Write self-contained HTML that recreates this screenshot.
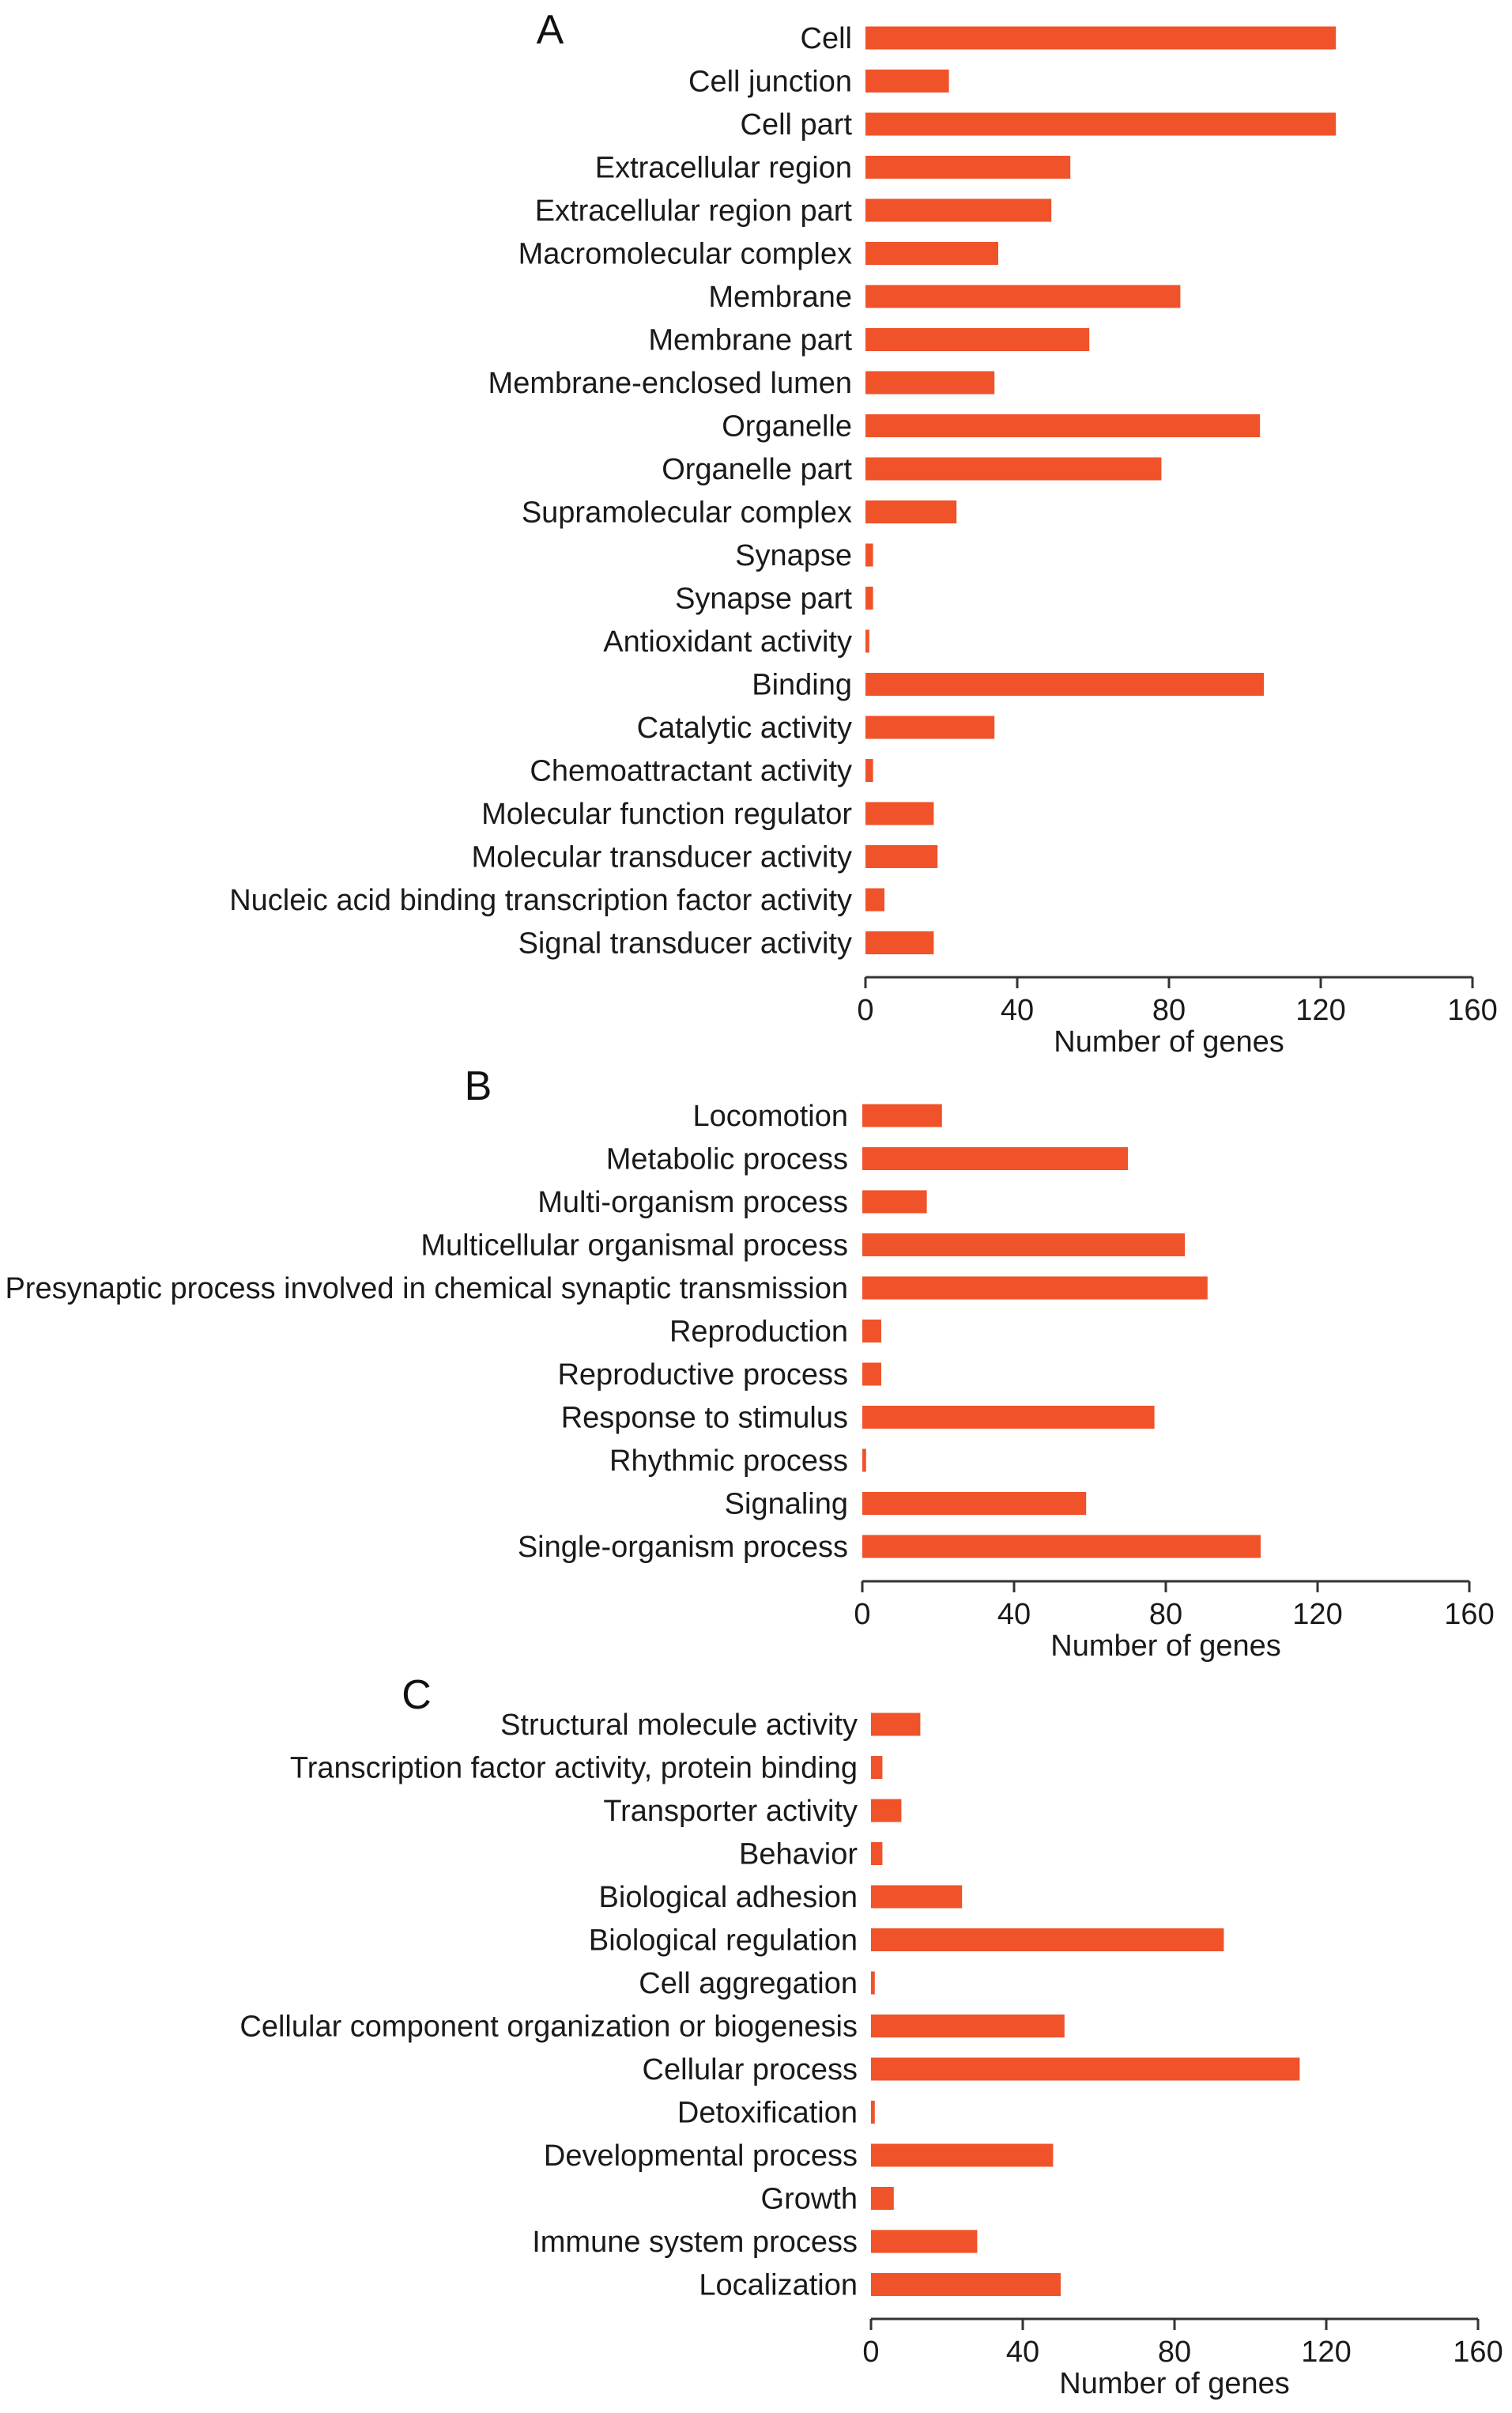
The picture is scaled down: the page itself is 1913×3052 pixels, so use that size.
<!DOCTYPE html>
<html><head><meta charset="utf-8"><style>
html,body{margin:0;padding:0;background:#fff;}
svg{display:block;font-family:"Liberation Sans",Arial,sans-serif;}
</style></head>
<body>
<svg id="fig" width="1913" height="3052" viewBox="0 0 1913 3052" xmlns="http://www.w3.org/2000/svg"></svg>
<script>
const catsA = ["Cell","Cell junction","Cell part","Extracellular region","Extracellular region part","Macromolecular complex","Membrane","Membrane part","Membrane-enclosed lumen","Organelle","Organelle part","Supramolecular complex","Synapse","Synapse part","Antioxidant activity","Binding","Catalytic activity","Chemoattractant activity","Molecular function regulator","Molecular transducer activity","Nucleic acid binding transcription factor activity","Signal transducer activity"];
const valsA = [124,22,124,54,49,35,83,59,34,104,78,24,2,2,1,105,34,2,18,19,5,18];
const catsB = ["Locomotion","Metabolic process","Multi-organism process","Multicellular organismal process","Presynaptic process involved in chemical synaptic transmission","Reproduction","Reproductive process","Response to stimulus","Rhythmic process","Signaling","Single-organism process"];
const valsB = [21,70,17,85,91,5,5,77,1,59,105];
const catsC = ["Structural molecule activity","Transcription factor activity, protein binding","Transporter activity","Behavior","Biological adhesion","Biological regulation","Cell aggregation","Cellular component organization or biogenesis","Cellular process","Detoxification","Developmental process","Growth","Immune system process","Localization"];
const valsC = [13,3,8,3,24,93,1,51,113,1,48,6,28,50];
const ticks = [0,40,80,120,160];
const tickLabels = ["0","40","80","120","160"];

const NS="http://www.w3.org/2000/svg";
const svg=document.getElementById('fig');
function mk(tag,attrs,parent){const e=document.createElementNS(NS,tag);for(const k in attrs)e.setAttribute(k,attrs[k]);(parent||svg).appendChild(e);return e;}

function panel(id,letter,lx,ly,cats,vals,x0,x1,y0,step,axisY,labelEnd){
  const g=mk('g',{});
  
  
  const xs=v=>x0+(x1-x0)*v/160;
  const yc=i=>y0+i*step;
  const L=mk('text',{x:lx,y:ly,'font-size':52,'text-anchor':'middle','dominant-baseline':'central',fill:'#111'},g);
  L.textContent=letter;
  
  
  cats.forEach((c,i)=>{
    const t=mk('text',{x:labelEnd,y:yc(i)+1,'font-size':38,'text-anchor':'end','dominant-baseline':'central',fill:'#1a1a1a'},g);
    t.textContent=c;
    
    
    const r=mk('rect',{x:xs(0),y:yc(i)-14.5,width:Math.max(xs(vals[i])-xs(0),2),height:29,fill:'#f0522a'},g);
    
    
  });
  const ax=mk('line',{x1:xs(0),x2:xs(160),y1:axisY,y2:axisY,stroke:'#333','stroke-width':3},g);
  
  
  ticks.forEach((tv,i)=>{
    const tk=mk('line',{x1:xs(tv),x2:xs(tv),y1:axisY,y2:axisY+14,stroke:'#333','stroke-width':3},g);
    
    
    const tl=mk('text',{x:xs(tv),y:axisY+42,'font-size':38,'text-anchor':'middle','dominant-baseline':'central',fill:'#1a1a1a'},g);
    tl.textContent=tickLabels[i];
    
    
  });
  const ti=mk('text',{x:xs(80),y:axisY+82,'font-size':38,'text-anchor':'middle','dominant-baseline':'central',fill:'#1a1a1a'},g);
  ti.textContent='Number of genes';
  
  
}
panel('a','A',696,38,catsA,valsA,1095,1863,48,54.5,1236,1078);
panel('b','B',605,1374,catsB,valsB,1091,1859,1411,54.5,2000,1073);
panel('c','C',527,2144,catsC,valsC,1102,1870,2181,54.5,2933,1085);
</script>
</body></html>
